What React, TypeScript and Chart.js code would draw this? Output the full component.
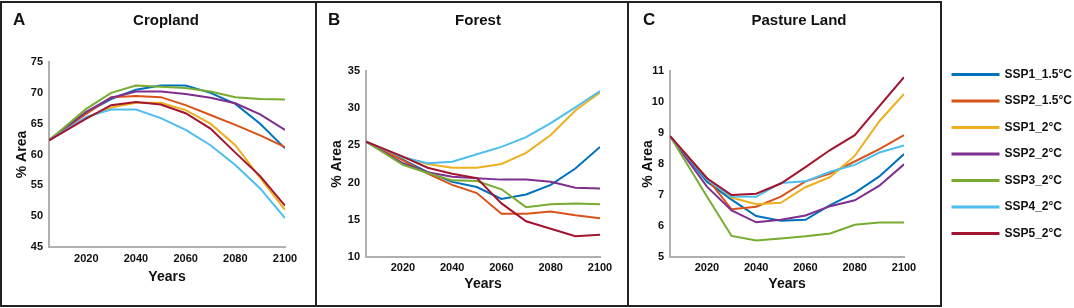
import React, { useEffect, useRef } from "react";
import { Chart, registerables } from "chart.js";
Chart.register(...registerables);

const years = [2005, 2020, 2030, 2040, 2050, 2060, 2070, 2080, 2090, 2100];
const yearTicks = [2020, 2040, 2060, 2080, 2100];
const scenarioLabels = ["SSP1_1.5°C", "SSP2_1.5°C", "SSP1_2°C", "SSP2_2°C", "SSP3_2°C", "SSP4_2°C", "SSP5_2°C"];
const scenarioColors = ["#0072BD", "#D95319", "#EDB120", "#7E2F8E", "#77AC30", "#4DBEEE", "#A2142F"];

// Cropland (% area)
const cropSSP1_15 = [62.3, 66.8, 69.0, 70.5, 71.2, 71.2, 70.0, 68.2, 65.0, 61.0];
const cropSSP2_15 = [62.3, 66.6, 69.3, 69.5, 69.3, 68.0, 66.4, 64.8, 63.1, 61.2];
const cropSSP1_2 = [62.3, 66.0, 67.6, 68.4, 68.4, 67.2, 65.0, 61.5, 56.2, 51.0];
const cropSSP2_2 = [62.3, 66.9, 69.2, 70.2, 70.2, 69.8, 69.2, 68.3, 66.5, 64.0];
const cropSSP3_2 = [62.3, 67.4, 70.0, 71.2, 71.0, 70.8, 70.2, 69.3, 69.0, 68.9];
const cropSSP4_2 = [62.3, 66.1, 67.3, 67.3, 65.9, 64.0, 61.5, 58.3, 54.5, 49.7];
const cropSSP5_2 = [62.3, 65.8, 68.0, 68.5, 68.1, 66.7, 64.2, 60.3, 56.5, 51.7];

// Forest (% area)
const forSSP1_15 = [25.5, 23.1, 21.4, 20.1, 19.4, 17.8, 18.4, 19.7, 21.9, 24.8];
const forSSP2_15 = [25.5, 23.0, 21.2, 19.7, 18.6, 15.8, 15.8, 16.1, 15.6, 15.2];
const forSSP1_2 = [25.5, 23.4, 22.5, 22.0, 22.0, 22.5, 24.0, 26.4, 29.7, 32.1];
const forSSP2_2 = [25.5, 22.6, 21.4, 20.8, 20.6, 20.4, 20.4, 20.1, 19.3, 19.2];
const forSSP3_2 = [25.5, 22.4, 21.3, 20.3, 20.2, 19.1, 16.7, 17.1, 17.2, 17.1];
const forSSP4_2 = [25.5, 23.4, 22.6, 22.8, 23.8, 24.8, 26.1, 28.0, 30.1, 32.3];
const forSSP5_2 = [25.5, 23.5, 22.0, 21.2, 20.6, 17.2, 14.8, 13.8, 12.8, 13.0];

// Pasture land (% area)
const pasSSP1_15 = [8.9, 7.43, 6.85, 6.32, 6.17, 6.2, 6.67, 7.07, 7.6, 8.32];
const pasSSP2_15 = [8.9, 7.54, 6.54, 6.62, 6.95, 7.44, 7.69, 8.08, 8.48, 8.93];
const pasSSP1_2 = [8.9, 7.54, 6.92, 6.7, 6.75, 7.25, 7.58, 8.26, 9.38, 10.26];
const pasSSP2_2 = [8.9, 7.27, 6.5, 6.12, 6.2, 6.34, 6.64, 6.83, 7.3, 7.99];
const pasSSP3_2 = [8.9, 6.95, 5.68, 5.53, 5.6, 5.67, 5.76, 6.04, 6.11, 6.11];
const pasSSP4_2 = [8.9, 7.5, 6.95, 6.94, 7.39, 7.44, 7.75, 7.97, 8.37, 8.6];
const pasSSP5_2 = [8.9, 7.54, 7.0, 7.04, 7.37, 7.9, 8.45, 8.93, 9.87, 10.8];

const panelLetters = ["A", "B", "C"];
const panelTitles = ["Cropland", "Forest", "Pasture Land"];
const panelSeries = [
  [cropSSP1_15, cropSSP2_15, cropSSP1_2, cropSSP2_2, cropSSP3_2, cropSSP4_2, cropSSP5_2],
  [forSSP1_15, forSSP2_15, forSSP1_2, forSSP2_2, forSSP3_2, forSSP4_2, forSSP5_2],
  [pasSSP1_15, pasSSP2_15, pasSSP1_2, pasSSP2_2, pasSSP3_2, pasSSP4_2, pasSSP5_2],
];
const panelYMin = [45, 10, 5];
const panelYMax = [75, 35, 11];
const panelYStep = [5, 5, 1];
const xTitle = "Years";
const yTitle = "% Area";

// Layout (pixels)
const H = 308;
const layouts = [
  { canvasLeft: 0, width: 315, left: 49, right: 285, top: 62, bottom: 247, yTitleX: 22, tickGap: 12, yearsY: 277, letterX: 13, titleCx: 166 },
  { canvasLeft: 315, width: 312, left: 51, right: 285, top: 71, bottom: 257, yTitleX: 22, tickGap: 11, yearsY: 284, letterX: 328, titleCx: 478 },
  { canvasLeft: 627, width: 314, left: 43, right: 277, top: 71, bottom: 257, yTitleX: 21, tickGap: 11, yearsY: 284, letterX: 643, titleCx: 799 },
];

const FONT = "'Liberation Sans', Arial, Helvetica, sans-serif";
const TEXT = "#111";
const AXIS = "#b0b0b0";

function makeConfig(i: number): any {
  const L = layouts[i];
  const tickFont = { family: FONT, size: 11, weight: "bold" as const };
  const titleFont = { family: FONT, size: 14, weight: "bold" as const };
  return {
    type: "line",
    data: {
      datasets: panelSeries[i].map((s, k) => ({
        label: scenarioLabels[k],
        data: years.map((y, j) => ({ x: y, y: s[j] })),
        borderColor: scenarioColors[k],
        backgroundColor: scenarioColors[k],
        borderWidth: 2,
        pointRadius: 0,
        tension: 0,
        fill: false,
        order: 10 - k,
      })),
    },
    options: {
      responsive: false,
      maintainAspectRatio: false,
      animation: false,
      events: [],
      layout: { padding: { left: 0, top: L.top, right: L.width - L.right, bottom: 0 } },
      plugins: { legend: { display: false }, tooltip: { enabled: false }, title: { display: false } },
      scales: {
        x: {
          type: "linear",
          min: 2005,
          max: 2100,
          afterBuildTicks: (s: any) => {
            s.ticks = yearTicks.map((v) => ({ value: v }));
          },
          afterFit: (s: any) => {
            s.height = H - L.bottom;
          },
          grid: { display: false, drawTicks: false },
          border: { display: true, color: AXIS, width: 2 },
          ticks: {
            font: tickFont,
            color: TEXT,
            padding: L.tickGap - 6.6,
            maxRotation: 0,
            autoSkip: false,
            callback: (v: any) => String(v),
          },
          title: {
            display: true,
            text: xTitle,
            font: titleFont,
            color: TEXT,
            padding: { top: 0, bottom: H - L.yearsY - 8.4 },
          },
        },
        y: {
          type: "linear",
          min: panelYMin[i],
          max: panelYMax[i],
          ticks: { stepSize: panelYStep[i], font: tickFont, color: TEXT, padding: 6 },
          afterFit: (s: any) => {
            s.width = L.left;
          },
          grid: { display: false, drawTicks: false },
          border: { display: true, color: AXIS, width: 2 },
          title: {
            display: true,
            text: yTitle,
            font: titleFont,
            color: TEXT,
            padding: { top: L.yTitleX - 8.4, bottom: 0 },
          },
        },
      },
    },
  };
}

function legendConfig(): any {
  return {
    type: "line",
    data: {
      labels: [],
      datasets: scenarioLabels.map((l, k) => ({
        label: l,
        data: [],
        borderColor: scenarioColors[k],
        backgroundColor: scenarioColors[k],
        borderWidth: 2,
      })),
    },
    options: {
      responsive: false,
      maintainAspectRatio: false,
      animation: false,
      events: [],
      layout: { padding: 0 },
      scales: { x: { display: false }, y: { display: false } },
      plugins: {
        tooltip: { enabled: false },
        legend: {
          position: "left",
          align: "center",
          labels: {
            boxWidth: 46,
            boxHeight: 1,
            padding: 14.5,
            color: TEXT,
            font: { family: FONT, size: 12, weight: "bold" },
          },
        },
      },
    },
  };
}

export default function App() {
  const refs = [useRef<HTMLCanvasElement>(null), useRef<HTMLCanvasElement>(null), useRef<HTMLCanvasElement>(null)];
  const legendRef = useRef<HTMLCanvasElement>(null);

  useEffect(() => {
    const charts: Chart[] = [];
    refs.forEach((r, i) => {
      if (r.current) charts.push(new Chart(r.current, makeConfig(i)));
    });
    if (legendRef.current) charts.push(new Chart(legendRef.current, legendConfig()));
    return () => charts.forEach((c) => c.destroy());
  }, []);

  return (
    <div style={{ position: "absolute", left: 0, top: 0, width: 1074, height: H, background: "#fff", fontFamily: FONT, overflow: "hidden" }}>
      {layouts.map((L, i) => (
        <canvas
          key={"c" + i}
          ref={refs[i]}
          width={L.width}
          height={H}
          style={{ position: "absolute", left: L.canvasLeft, top: 0, width: L.width, height: H }}
        />
      ))}
      <canvas ref={legendRef} width={320} height={H} style={{ position: "absolute", left: 938, top: 0, width: 320, height: H }} />
      {layouts.map((L, i) => (
        <div
          key={"l" + i}
          style={{ position: "absolute", left: L.letterX, top: 11, fontSize: 17, lineHeight: "17px", fontWeight: "bold", color: TEXT }}
        >
          {panelLetters[i]}
        </div>
      ))}
      {layouts.map((L, i) => (
        <div
          key={"t" + i}
          style={{ position: "absolute", left: L.titleCx - 100, width: 200, top: 11.5, textAlign: "center", fontSize: 15, lineHeight: "15px", fontWeight: "bold", color: TEXT }}
        >
          {panelTitles[i]}
        </div>
      ))}
      <div style={{ position: "absolute", left: 0, top: 1, width: 942, height: 306, border: "2px solid #222", boxSizing: "border-box", pointerEvents: "none" }} />
      <div style={{ position: "absolute", left: 315, top: 1, width: 2, height: 306, background: "#222" }} />
      <div style={{ position: "absolute", left: 627, top: 1, width: 2, height: 306, background: "#222" }} />
    </div>
  );
}
